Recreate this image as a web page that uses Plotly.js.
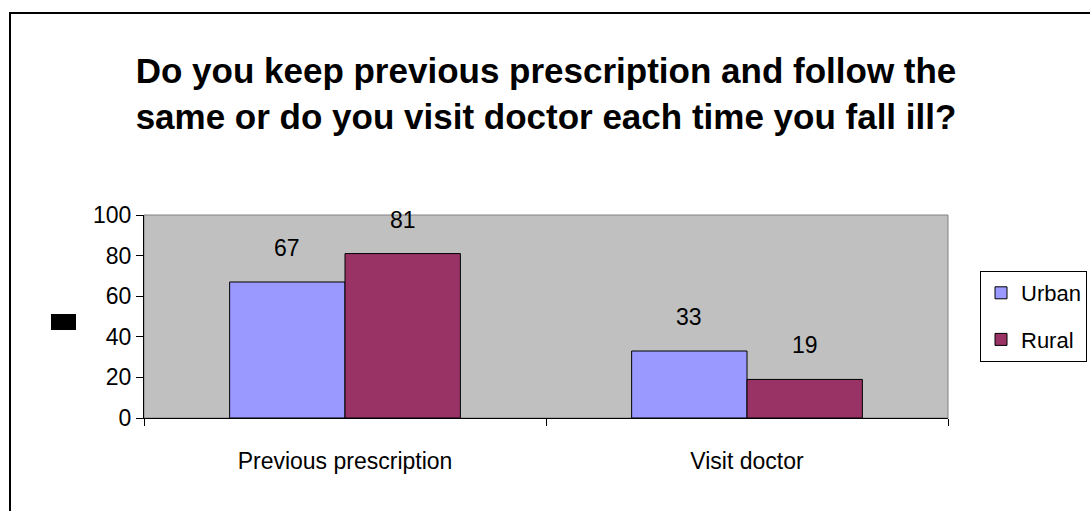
<!DOCTYPE html>
<html>
<head>
<meta charset="utf-8">
<script src="https://cdn.plot.ly/plotly-3.0.1.min.js"></script>
<style>
  html, body { margin: 0; padding: 0; background: #ffffff; }
  #chart { width: 1090px; height: 511px; }
</style>
</head>
<body>
<div id="chart"></div>
<script>
const categories = ["Previous prescription", "Visit doctor"];
const urban = [67, 33];
const rural = [81, 19];
const seriesNames = ["Urban", "Rural"];
const titleLines = ["Do you keep previous prescription and follow the", "same or do you visit doctor each time you fall ill?"];

const FONT = "Liberation Sans, Arial, sans-serif";
const bargap = 0.426;

const traces = [
  {
    type: "bar", name: seriesNames[0], x: categories, y: urban,
    marker: { color: "#9999FF", line: { color: "#000000", width: 1 } },
    legendgroup: "a", hoverinfo: "none"
  },
  {
    type: "bar", name: seriesNames[1], x: categories, y: rural,
    marker: { color: "#993366", line: { color: "#000000", width: 1 } },
    legendgroup: "b", hoverinfo: "none"
  }
];

// plot area geometry (pixels)
const L = 144, R = 142, T = 215, B = 93;
const W = 1090 - L - R, H = 511 - T - B;
const px = v => (v - L) / W;          // page x -> paper x
const py = v => (511 - B - v) / H;    // page y -> paper y

const catW = W / categories.length;
const barW = catW * (1 - bargap) / 2;

const annotations = [];
categories.forEach((c, i) => {
  [urban, rural].forEach((arr, s) => {
    annotations.push({
      x: c, y: arr[i], xref: "x", yref: "y",
      text: String(arr[i]), showarrow: false,
      xshift: (s === 0 ? -1 : 1) * barW / 2,
      yshift: 34, yanchor: "middle",
      font: { family: FONT, size: 23, color: "#000000" }
    });
  });
});

const layout = {
  width: 1090, height: 511,
  margin: { l: L, r: R, t: T, b: B, pad: 0, autoexpand: false },
  paper_bgcolor: "#ffffff",
  plot_bgcolor: "#C0C0C0",
  font: { family: FONT, size: 22, color: "#000000" },
  title: {
    text: "<b>" + titleLines.join("<br>") + "</b>",
    font: { family: FONT, size: 35, color: "#000000" },
    x: 0.5, xref: "paper", xanchor: "center",
    y: 1 - 83 / 511, yref: "container", yanchor: "middle"
  },
  barmode: "group",
  bargap: bargap,
  bargroupgap: 0,
  showlegend: true,
  legend: {
    x: px(980), y: py(271), xanchor: "left", yanchor: "top",
    bgcolor: "#ffffff", bordercolor: "#000000", borderwidth: 1,
    font: { family: FONT, size: 22, color: "#000000" },
    traceorder: "grouped", tracegroupgap: 15,
    itemwidth: 30
  },
  xaxis: {
    type: "category",
    showline: true, linecolor: "#000000", linewidth: 1,
    ticks: "outside", ticklen: 7, tickcolor: "#000000",
    tickson: "boundaries",
    ticklabelstandoff: 22,
    showgrid: false, zeroline: false,
    tickfont: { family: FONT, size: 23, color: "#000000" }
  },
  yaxis: {
    range: [0, 100], dtick: 20, tick0: 0,
    showline: true, linecolor: "#000000", linewidth: 1,
    ticks: "outside", ticklen: 7, tickcolor: "#000000",
    showgrid: false, zeroline: false,
    tickfont: { family: FONT, size: 23, color: "#000000" }
  },
  annotations: annotations,
  shapes: [
    // plot area border (grey top/right)
    { type: "rect", xref: "paper", yref: "paper", x0: 0, x1: 1, y0: 0, y1: 1,
      line: { color: "#808080", width: 1 }, layer: "below" },
    // chart outer border
    { type: "rect", xref: "paper", yref: "paper",
      x0: px(10), x1: px(1100), y0: py(520), y1: py(13),
      line: { color: "#000000", width: 2 }, fillcolor: "rgba(0,0,0,0)" },
    // small black square at left
    { type: "rect", xref: "paper", yref: "paper",
      x0: px(51), x1: px(76), y0: py(330), y1: py(314),
      line: { width: 0 }, fillcolor: "#000000" }
  ]
};

Plotly.newPlot("chart", traces, layout, { staticPlot: true, displayModeBar: false });
</script>
</body>
</html>
